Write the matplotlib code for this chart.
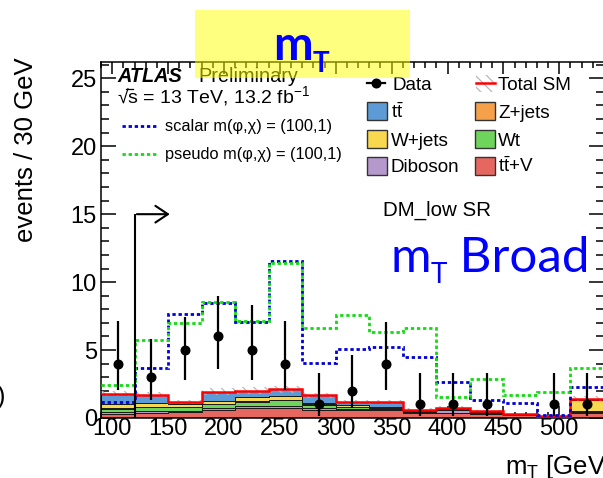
import numpy as np
import matplotlib
matplotlib.use("Agg")
import matplotlib.pyplot as plt
from matplotlib.patches import Rectangle, FancyArrowPatch
from matplotlib.ticker import MultipleLocator

plt.rcParams["font.family"] = ["Liberation Sans", "DejaVu Sans"]
plt.rcParams["mathtext.fontset"] = "custom"
plt.rcParams["mathtext.rm"] = "Liberation Sans"
plt.rcParams["mathtext.it"] = "Liberation Sans:italic"
plt.rcParams["mathtext.bf"] = "Liberation Sans:bold"
plt.rcParams["hatch.linewidth"] = 0.9

# ---- binning (GeV) ----
mt_edges = [90, 120, 150, 180, 210, 240, 270, 300, 330, 360, 390, 420, 450, 480, 510, 540]

# ---- SM backgrounds, events per bin ----
bkg_ttV     = [0.30, 0.37, 0.45, 0.58, 0.70, 0.72, 0.62, 0.60, 0.62, 0.38, 0.38, 0.32, 0.20, 0.13, 0.35]
bkg_diboson = [0.15, 0.12, 0.08, 0.12, 0.15, 0.18, 0.14, 0.09, 0.04, 0.05, 0.20, 0.05, 0.02, 0.01, 0.05]
bkg_wt      = [0.22, 0.30, 0.25, 0.30, 0.35, 0.40, 0.20, 0.12, 0.05, 0.04, 0.03, 0.06, 0.03, 0.02, 0.05]
bkg_zjets   = [0.03, 0.05, 0.05, 0.05, 0.05, 0.05, 0.05, 0.03, 0.03, 0.02, 0.02, 0.02, 0.00, 0.00, 0.05]
bkg_wjets   = [0.30, 0.30, 0.20, 0.20, 0.30, 0.30, 0.10, 0.08, 0.04, 0.10, 0.08, 0.03, 0.01, 0.00, 0.80]
bkg_ttbar   = [0.80, 0.58, 0.17, 0.70, 0.45, 0.45, 0.55, 0.28, 0.42, 0.03, 0.04, 0.04, 0.02, 0.00, 0.10]
sm_unc      = [0.20, 0.20, 0.15, 0.25, 0.25, 0.28, 0.20, 0.15, 0.15, 0.10, 0.10, 0.08, 0.05, 0.04, 0.20]

# ---- signal benchmarks ----
sig_scalar = [1.20, 3.65, 7.65, 8.45, 7.10, 11.55, 4.05, 5.05, 5.20, 4.46, 2.63, 1.35, 1.08, 0.23, 2.25]
sig_pseudo = [2.43, 5.75, 6.97, 8.53, 7.12, 11.42, 6.60, 7.55, 6.35, 6.65, 1.55, 2.90, 1.70, 1.90, 3.70]

# ---- data with error-bar ends ----
nan = np.nan
data_obs  = [4, 3, 5, 6, 5, 4, 1, 2, 4, 1, 1, 1, nan, 1, 1]
data_low  = [2.06, 1.35, 2.80, 3.60, 2.80, 2.06, 0.17, 0.70, 2.06, 0.17, 0.17, 0.17, nan, 0.17, 0.17]
data_high = [7.13, 5.85, 7.45, 9.00, 8.30, 7.13, 3.30, 4.60, 7.10, 3.30, 3.30, 3.30, nan, 3.30, 3.30]

mt_cut = 120
arrow_level = 15
arrow_len = 34

col_ttbar = "#5d9bd6"
col_zjets = "#f5a14a"
col_wjets = "#f7d84e"
col_wt = "#6fd45c"
col_diboson = "#b599cc"
col_ttV = "#e5675f"
col_scalar = "#0000dd"
col_pseudo = "#11dd11"

W, H = 603, 478
fig = plt.figure(figsize=(W / 100, H / 100), dpi=100)
ax = fig.add_axes([101 / W, 1 - 418 / H, 503 / W, 356 / H])

edges = np.array(mt_edges, dtype=float)
centers = 0.5 * (edges[:-1] + edges[1:])

# stacked backgrounds, bottom to top
stack = [(bkg_ttV, col_ttV), (bkg_diboson, col_diboson), (bkg_wt, col_wt),
         (bkg_zjets, col_zjets), (bkg_wjets, col_wjets), (bkg_ttbar, col_ttbar)]
base = np.zeros(len(centers))
for vals, c in stack:
    top = base + np.array(vals)
    ax.stairs(top, edges, baseline=base, fill=True, facecolor=c,
              edgecolor="#1a1a1a", linewidth=0.7, zorder=2)
    base = top
total = base
unc = np.array(sm_unc)

# total SM uncertainty band and line
ax.stairs(total + unc, edges, baseline=total - unc, fill=True, facecolor="none",
          edgecolor="#b8b8b8", hatch="\\\\\\", linewidth=0, zorder=3)
ax.stairs(total, edges, baseline=None, color="#ff0000", linewidth=1.8, zorder=4)

# signal models
ax.stairs(sig_scalar, edges, baseline=None, color=col_scalar, linewidth=2.0,
          linestyle=(0, (1.2, 1.0)), zorder=5)
ax.stairs(sig_pseudo, edges, baseline=None, color=col_pseudo, linewidth=2.0,
          linestyle=(0, (1.2, 1.0)), zorder=6)

# data
d = np.array(data_obs, dtype=float)
yerr = [d - np.array(data_low), np.array(data_high) - d]
ax.errorbar(centers, d, yerr=yerr, fmt="o", color="black", ms=6.2,
            elinewidth=1.6, capsize=0, zorder=8)

# selection cut arrow
ax.plot([mt_cut, mt_cut], [0, arrow_level], color="black", lw=1.5, zorder=9,
        solid_capstyle="butt")
ax.add_patch(FancyArrowPatch((mt_cut - 0.4, arrow_level), (mt_cut + arrow_len, arrow_level),
                             arrowstyle="->,head_length=0.45,head_width=0.3",
                             mutation_scale=20, color="black", lw=1.5, zorder=9))

ax.set_xlim(90, 540)
ax.set_ylim(0, 26.2)
ax.xaxis.set_major_locator(MultipleLocator(50))
ax.xaxis.set_minor_locator(MultipleLocator(10))
ax.yaxis.set_major_locator(MultipleLocator(5))
ax.yaxis.set_minor_locator(MultipleLocator(1))
ax.tick_params(which="both", direction="in", top=True, right=True, width=1.1,
               labelsize=17, color="black")
ax.tick_params(axis="y", which="major", length=11, pad=3)
ax.tick_params(axis="y", which="minor", length=6)
ax.tick_params(axis="x", which="major", length=8.5, pad=0)
ax.tick_params(axis="x", which="minor", length=4.3)
for s in ax.spines.values():
    s.set_linewidth(1.1)

# ---- overlay in pixel coordinates for texts and legend ----
ov = fig.add_axes([0, 0, 1, 1])
ov.set_xlim(0, W)
ov.set_ylim(H, 0)
ov.axis("off")
ov.patch.set_alpha(0)

ov.text(26, 57, "events / 30 GeV", rotation=90, ha="center", va="top", fontsize=18.5)
ov.text(505, 474, r"$\mathrm{m_{T}}$ [GeV]", ha="left", va="baseline", fontsize=18.5)
ov.text(5, 397, ")", ha="right", va="center", fontsize=18)

ov.text(117, 82, "ATLAS", fontsize=14.3, fontweight="bold", fontstyle="italic", va="baseline")
ov.text(198, 82, "Preliminary", fontsize=14.3, va="baseline")
ov.text(117, 103, "\u221as = 13 TeV, 13.2 fb$^{\\mathrm{-1}}$", fontsize=14.0, va="baseline")
ov.plot([125.5, 132.5], [88.5, 88.5], color="black", lw=0.9)

ov.plot([122, 157], [126, 126], color=col_scalar, lw=2.0, linestyle=(0, (1.2, 1.0)))
ov.text(165, 131.5, "scalar m(\u03c6,\u03c7) = (100,1)", fontsize=11.8, va="baseline")
ov.plot([122, 157], [154, 154], color=col_pseudo, lw=2.0, linestyle=(0, (1.2, 1.0)))
ov.text(165, 159.5, "pseudo m(\u03c6,\u03c7) = (100,1)", fontsize=11.8, va="baseline")

# legend
lfs = 13.6
ov.plot([367, 385], [83, 83], color="black", lw=1.6)
ov.plot([376], [83], "o", color="black", ms=6.2)
ov.text(392, 90, "Data", fontsize=lfs, va="baseline")
ov.add_patch(Rectangle((476, 75), 19, 17, facecolor="none", edgecolor="#b8b8b8",
                       hatch="\\\\\\", linewidth=0))
ov.plot([476, 495], [83, 83], color="#ff0000", lw=1.8)
ov.text(498, 90, "Total SM", fontsize=lfs, va="baseline")

rows = [
    (111, (col_ttbar, r"$\mathrm{t\bar{t}}$"), (col_zjets, "Z+jets")),
    (139, (col_wjets, "W+jets"), (col_wt, "Wt")),
    (166, (col_diboson, "Diboson"), (col_ttV, r"$\mathrm{t\bar{t}}$+V")),
]
for yc, left, right in rows:
    for (c, lab), bx, tx in ((left, 367, 391), (right, 475, 498)):
        ov.add_patch(Rectangle((bx, yc - 9), 20, 18, facecolor=c, edgecolor="#333333", linewidth=1.0))
        ov.text(tx, yc + 6.5, lab, fontsize=lfs, va="baseline")

ov.text(383, 216, "DM_low SR", fontsize=14.8, va="baseline")

# highlighted header
ov.add_patch(Rectangle((195, 10), 215, 68, facecolor="#ffff00", alpha=0.5,
                       edgecolor="none", zorder=10))

renderer = fig.canvas.get_renderer()


def seq_text(x, y, pieces):
    for txt, size, dy, weight in pieces:
        t = ov.text(x, y + dy, txt, fontsize=size, fontweight=weight, color="#0000ff",
                    family=["Lato", "DejaVu Sans"], va="baseline", ha="left", zorder=11)
        bb = t.get_window_extent(renderer)
        x += bb.width


seq_text(273, 60, [("m", 34, 0, "bold"), ("T", 20, 12, "bold")])
seq_text(390, 272, [("m", 35.5, 0, "normal"), ("T", 20, 11, "normal"), (" Broad", 35.5, 0, "normal")])

fig.savefig("out.png", dpi=100)
